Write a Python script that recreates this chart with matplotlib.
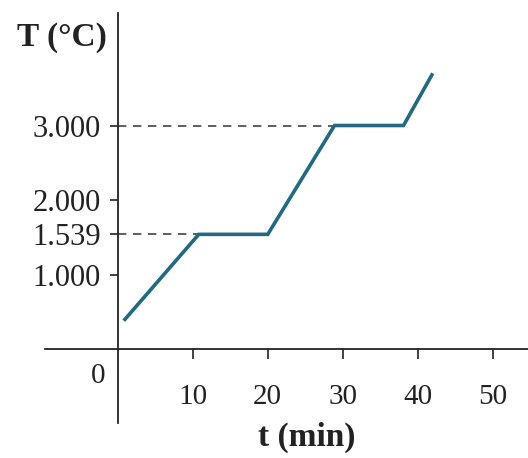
import matplotlib
matplotlib.use("Agg")
import matplotlib.pyplot as plt

# Data
t_vals = [0.8, 10.8, 20.0, 28.9, 38.1, 42.0]
T_vals = [380, 1539, 1539, 3000, 3000, 3700]
x_ticks = [10, 20, 30, 40, 50]
x_labels = ["10", "20", "30", "40", "50"]
y_ticks = [1000, 1539, 2000, 3000]
y_labels = ["1.000", "1.539", "2.000", "3.000"]
ref_levels = [1539, 3000]
ref_ends = [10.8, 28.9]

plt.rcParams['font.family'] = ['Liberation Serif', 'DejaVu Serif']

W, H = 528, 458
fig = plt.figure(figsize=(W / 100, H / 100), dpi=100)
left = 45 / W
bottom = (H - 423) / H
top = (H - 13) / H
ax = fig.add_axes([left, bottom, 1 - left, top - bottom])

x0, x1 = -9.7, 54.7
y0, y1 = -993, 4510
ax.set_xlim(x0, x1)
ax.set_ylim(y0, y1)

for s in ['top', 'right']:
    ax.spines[s].set_visible(False)
ax.spines['left'].set_position(('data', 0))
ax.spines['bottom'].set_position(('data', 0))
for s in ['left', 'bottom']:
    ax.spines[s].set_color('#222222')
    ax.spines[s].set_linewidth(1.3)

ax.plot(t_vals, T_vals, color='#216a82', linewidth=2.6, solid_capstyle='butt',
        solid_joinstyle='miter', zorder=3)

for lvl, xe in zip(ref_levels, ref_ends):
    ax.plot([0, xe], [lvl, lvl], color='#444444', linewidth=1.2,
            linestyle=(0, (5, 4)), zorder=2)

ax.set_xticks(x_ticks)
ax.set_xticklabels(x_labels)
ax.set_yticks(y_ticks)
ax.set_yticklabels(y_labels)
ax.tick_params(axis='x', direction='out', length=7, width=1.2, pad=18,
               labelsize=21, colors='#222222')
ax.tick_params(axis='y', direction='out', length=6, width=1.2, pad=6,
               labelsize=22, colors='#222222')

ax.text(-2.6, -360, "0", ha='center', va='center', fontsize=21, color='#222222')
ax.text(-13.4, 4180, "T (°C)", ha='left', va='center', fontsize=24,
        fontweight='bold', color='#222222', clip_on=False)
ax.text(25.2, -1180, "t (min)", ha='center', va='center', fontsize=24,
        fontweight='bold', color='#222222', clip_on=False)

fig.savefig("out.png", dpi=100)
